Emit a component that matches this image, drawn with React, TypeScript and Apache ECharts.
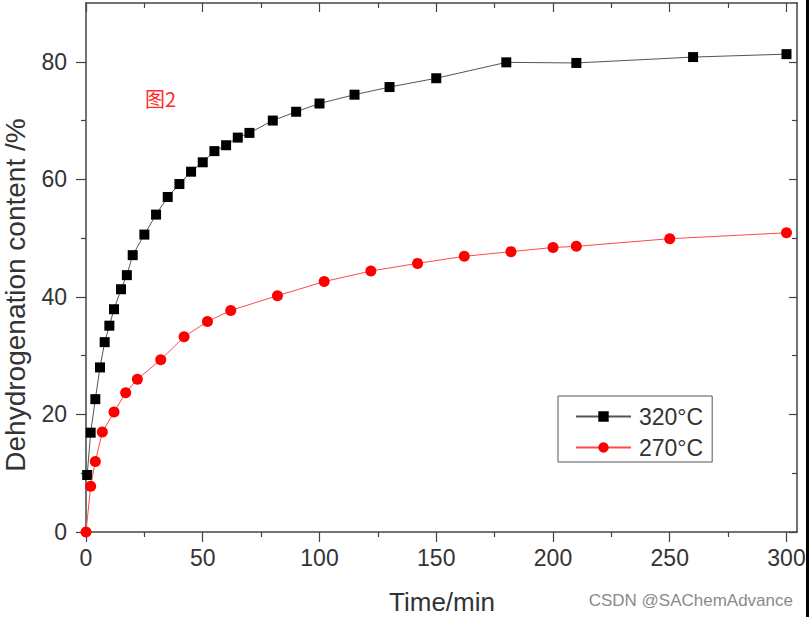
import React, { useEffect, useRef } from "react";
import * as echarts from "echarts";

const time320 = [0.5, 2, 4, 6, 8, 10, 12, 15, 17.5, 20, 25, 30, 35, 40, 45, 50, 55, 60, 65, 70, 80, 90, 100, 115, 130, 150, 180, 210, 260, 300];
const content320 = [9.7, 16.9, 22.6, 28.0, 32.3, 35.1, 37.9, 41.3, 43.7, 47.1, 50.6, 54.0, 57.0, 59.2, 61.3, 62.9, 64.8, 65.8, 67.1, 67.9, 70.0, 71.5, 72.9, 74.4, 75.7, 77.2, 79.9, 79.8, 80.8, 81.3];

const time270 = [0, 2, 4, 7, 12, 17, 22, 32, 42, 52, 62, 82, 102, 122, 142, 162, 182, 200, 210, 250, 300];
const content270 = [0, 7.8, 12.0, 17.0, 20.4, 23.7, 26.0, 29.3, 33.2, 35.8, 37.7, 40.2, 42.6, 44.4, 45.7, 46.9, 47.7, 48.4, 48.6, 49.9, 50.9];

const xTicks = [0, 50, 100, 150, 200, 250, 300];
const yTicks = [0, 20, 40, 60, 80];
const seriesNames = ["320°C", "270°C"];
const xTitle = "Time/min";
const yTitle = "Dehydrogenation content /%";
const noteText = "图2";
const watermark = "CSDN @SAChemAdvance";

const FONT = "'Liberation Sans', Arial, Helvetica, sans-serif";
const AXIS_COLOR = "#444";

export default function App() {
  const ref = useRef<HTMLDivElement>(null);

  useEffect(() => {
    document.body.style.margin = "0";
    if (!ref.current) return;
    const chart = echarts.init(ref.current, undefined, { renderer: "svg" });

    const baseX = {
      type: "value" as const,
      min: 0,
      max: 304.5,
      interval: 50,
      splitLine: { show: false },
      axisLine: { show: true, onZero: false, lineStyle: { color: AXIS_COLOR, width: 1.5 } },
      minorTick: { show: true, splitNumber: 2, length: 5, lineStyle: { color: AXIS_COLOR, width: 1.2 } },
      minorSplitLine: { show: false },
    };
    const baseY = {
      type: "value" as const,
      min: 0,
      max: 90,
      interval: 20,
      splitLine: { show: false },
      axisLine: { show: true, onZero: false, lineStyle: { color: AXIS_COLOR, width: 1.5 } },
      minorTick: { show: true, splitNumber: 2, length: 5, lineStyle: { color: AXIS_COLOR, width: 1.2 } },
      minorSplitLine: { show: false },
    };

    const option = {
      animation: false,
      backgroundColor: "#ffffff",
      grid: { left: 86, right: 12, top: 3, bottom: 85, containLabel: false },
      xAxis: [
        {
          ...baseX,
          position: "bottom",
          axisTick: { show: true, inside: false, length: 10, customValues: xTicks, lineStyle: { color: AXIS_COLOR, width: 1.2 } },
          axisLabel: { show: true, customValues: xTicks, margin: 14, fontSize: 23, color: "#333", fontFamily: FONT },
        },
        {
          ...baseX,
          position: "top",
          axisTick: { show: true, inside: true, length: 9, customValues: xTicks, lineStyle: { color: AXIS_COLOR, width: 1.2 } },
          axisLabel: { show: false },
        },
      ],
      yAxis: [
        {
          ...baseY,
          position: "left",
          axisTick: { show: true, inside: false, length: 10, customValues: yTicks, lineStyle: { color: AXIS_COLOR, width: 1.2 } },
          axisLabel: { show: true, customValues: yTicks, margin: 19, fontSize: 23, color: "#333", fontFamily: FONT },
        },
        {
          ...baseY,
          position: "right",
          axisTick: { show: true, inside: true, length: 8, customValues: yTicks, lineStyle: { color: AXIS_COLOR, width: 1.2 } },
          axisLabel: { show: false },
        },
      ],
      legend: {
        show: true,
        orient: "vertical",
        left: 558,
        top: 396,
        padding: [9, 9, 3, 17],
        itemGap: 8,
        itemWidth: 55,
        itemHeight: 13,
        borderColor: "#555",
        borderWidth: 1,
        backgroundColor: "#fff",
        textStyle: { fontSize: 23, color: "#333", fontFamily: FONT, padding: [0, 0, 0, 3] },
        data: seriesNames,
      },
      series: [
        {
          name: seriesNames[0],
          type: "line",
          xAxisIndex: 0,
          yAxisIndex: 0,
          data: time320.map((t, i) => [t, content320[i]]),
          symbol: "rect",
          symbolSize: 10,
          itemStyle: { color: "#000" },
          lineStyle: { color: "#555", width: 1 },
          clip: false,
          z: 3,
        },
        {
          name: seriesNames[1],
          type: "line",
          xAxisIndex: 0,
          yAxisIndex: 0,
          data: time270.map((t, i) => [t, content270[i]]),
          symbol: "circle",
          symbolSize: 11,
          itemStyle: { color: "#ff0000" },
          lineStyle: { color: "#ff4a4a", width: 1 },
          clip: false,
          z: 4,
        },
      ],
      graphic: [
        {
          type: "text",
          x: 15,
          y: 295,
          rotation: Math.PI / 2,
          style: { text: yTitle, fontSize: 28, fontFamily: FONT, fill: "#333", align: "center", verticalAlign: "middle" },
        },
        {
          type: "text",
          x: 442,
          y: 602,
          style: { text: xTitle, fontSize: 26, fontFamily: FONT, fill: "#333", align: "center", verticalAlign: "middle" },
        },
        {
          type: "text",
          x: 145,
          y: 98,
          style: { text: noteText, fontSize: 20, fontFamily: "'Noto Sans CJK SC', sans-serif", fill: "#ff2a2a", align: "left", verticalAlign: "middle" },
        },
        {
          type: "text",
          x: 793,
          y: 600,
          style: { text: watermark, fontSize: 17, fontFamily: FONT, fill: "#8a8a8a", align: "right", verticalAlign: "middle" },
        },
        {
          type: "rect",
          shape: { x: 806, y: 0, width: 3, height: 617 },
          style: { fill: "#000" },
        },
      ],
    };

    chart.setOption(option as any);
    return () => chart.dispose();
  }, []);

  return <div ref={ref} style={{ width: 809, height: 617 }} />;
}
